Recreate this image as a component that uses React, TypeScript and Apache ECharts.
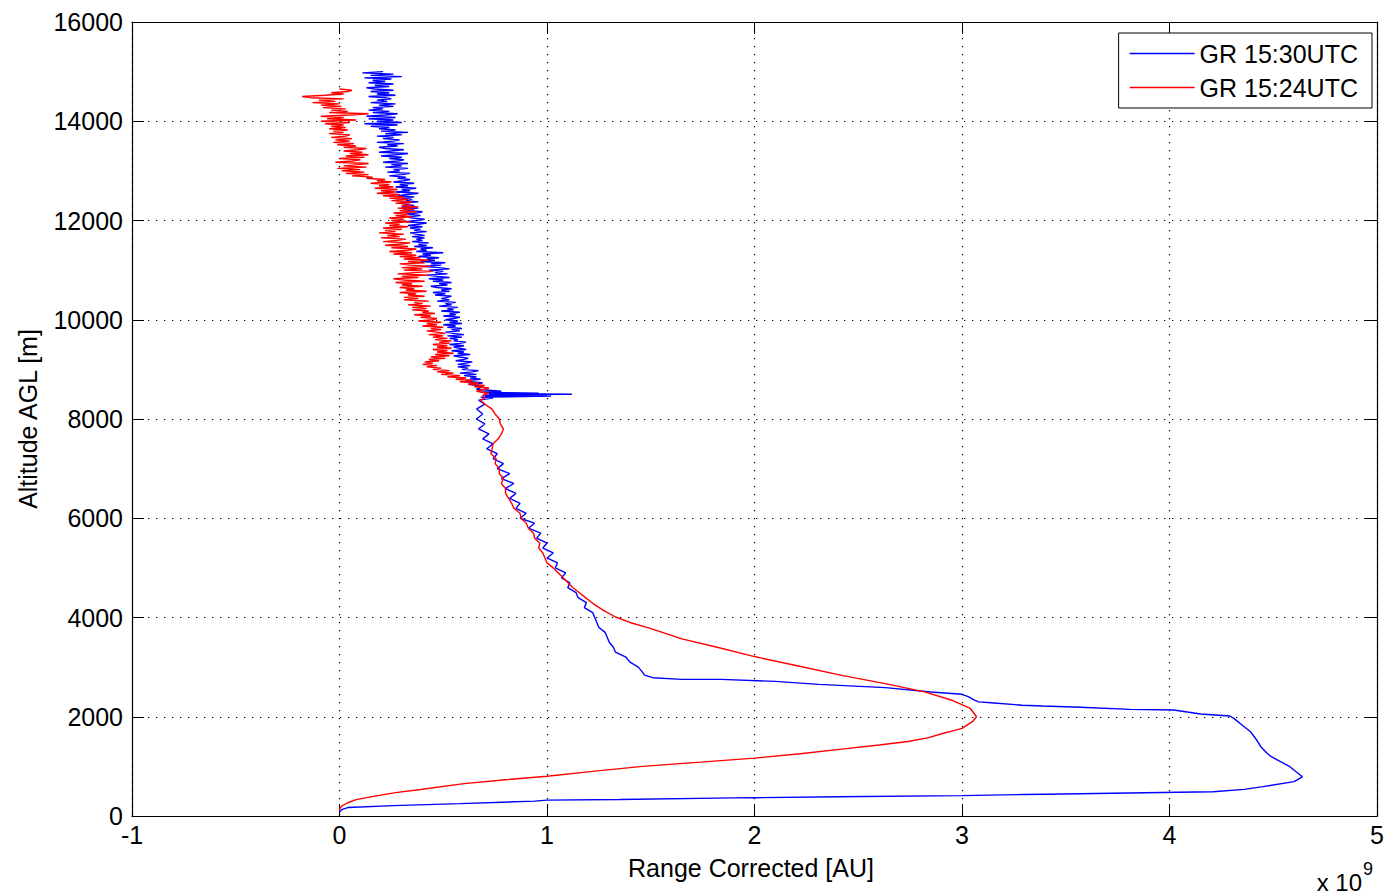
import React, { useEffect, useRef } from "react";
import * as echarts from "echarts";

// x values in units of 1e9 (Range Corrected [AU]), y = altitude AGL [m]
const X_MIN = -1, X_MAX = 5, X_STEP = 1;
const Y_MIN = 0, Y_MAX = 16000, Y_STEP = 2000;
const SERIES_NAMES = ["GR 15:30UTC", "GR 15:24UTC"];

// GR 15:30UTC, boundary layer part: [value, altitude]
const blueLow: [number, number][] = [
  [0.0, 75], [0.01, 130], [0.04, 170], [0.26, 210], [0.58, 250], [0.94, 300], [1.0, 320], [1.35, 333],
  [1.9, 365], [2.0, 368], [2.4, 387], [3.0, 410], [3.3, 434], [3.49, 443], [3.88, 470], [4.21, 490],
  [4.36, 537], [4.45, 591], [4.6, 692], [4.64, 790], [4.58, 994], [4.49, 1196], [4.47, 1263], [4.44, 1397],
  [4.42, 1531], [4.39, 1699], [4.36, 1800], [4.31, 1968], [4.29, 2015], [4.15, 2055], [4.02, 2136],
  [3.81, 2149], [3.57, 2190], [3.39, 2216], [3.29, 2233], [3.14, 2283], [3.08, 2300], [3.06, 2337],
  [3.03, 2404], [3.0, 2452], [2.85, 2500], [2.63, 2587], [2.31, 2653], [2.1, 2713], [1.84, 2753],
  [1.65, 2753], [1.51, 2787], [1.47, 2840],
];

// GR 15:30UTC, free troposphere up to the 8.5 km layer: [value, altitude]
const blueMid: [number, number][] = [
  [1.46, 2900], [1.44, 3000], [1.40, 3100], [1.38, 3200], [1.33, 3300], [1.32, 3400], [1.30, 3500],
  [1.29, 3600], [1.28, 3700], [1.25, 3800], [1.24, 3900], [1.23, 4000], [1.22, 4100], [1.18, 4200],
  [1.19, 4300], [1.15, 4400], [1.14, 4500], [1.10, 4600], [1.11, 4700], [1.07, 4800], [1.09, 4900],
  [1.04, 5000], [1.05, 5100], [1.00, 5200], [1.03, 5300], [0.98, 5400], [1.00, 5500], [0.95, 5600],
  [0.97, 5700], [0.91, 5800], [0.94, 5900], [0.87, 6000], [0.90, 6100], [0.85, 6200], [0.87, 6300],
  [0.82, 6400], [0.85, 6500], [0.80, 6600], [0.84, 6700], [0.78, 6800], [0.82, 6900], [0.76, 7000],
  [0.79, 7100], [0.74, 7200], [0.76, 7300], [0.71, 7400], [0.74, 7500], [0.69, 7600], [0.72, 7700],
  [0.67, 7800], [0.70, 7900], [0.66, 8000], [0.69, 8100], [0.66, 8200], [0.70, 8300], [0.67, 8380],
  [0.74, 8420], [0.68, 8440], [1.02, 8460], [0.70, 8470], [1.00, 8480], [0.72, 8490], [1.12, 8500],
  [0.70, 8510], [0.96, 8520], [0.68, 8540], [0.78, 8560], [0.66, 8600], [0.69, 8650],
];

// GR 15:30UTC, noisy upper part, one value per 25 m bin starting at blueHighAlt0
const blueHighAlt0 = 8675;
const blueHighVal: number[] = [
  0.67, 0.62, 0.69, 0.64, 0.61, 0.68, 0.63, 0.66,
  0.60, 0.66, 0.58, 0.64, 0.67, 0.59, 0.62, 0.57,
  0.63, 0.57, 0.61, 0.64, 0.56, 0.60, 0.62, 0.58,
  0.55, 0.63, 0.57, 0.60, 0.54, 0.61, 0.58, 0.55,
  0.60, 0.53, 0.58, 0.61, 0.55, 0.57, 0.53, 0.59,
  0.52, 0.60, 0.55, 0.51, 0.58, 0.54, 0.59, 0.52,
  0.56, 0.50, 0.59, 0.53, 0.57, 0.51, 0.55, 0.58,
  0.50, 0.56, 0.53, 0.58, 0.49, 0.55, 0.52, 0.57,
  0.48, 0.54, 0.51, 0.56, 0.47, 0.53, 0.49, 0.52,
  0.54, 0.46, 0.51, 0.45, 0.53, 0.49, 0.54, 0.47,
  0.44, 0.52, 0.48, 0.54, 0.45, 0.50, 0.43, 0.53,
  0.47, 0.42, 0.52, 0.46, 0.50, 0.43, 0.53, 0.48,
  0.40, 0.49, 0.44, 0.51, 0.39, 0.46, 0.42, 0.48,
  0.38, 0.44, 0.40, 0.50, 0.37, 0.42, 0.39, 0.45,
  0.36, 0.42, 0.38, 0.43, 0.35, 0.40, 0.37, 0.41,
  0.35, 0.41, 0.37, 0.34, 0.42, 0.36, 0.39, 0.34,
  0.40, 0.33, 0.38, 0.42, 0.32, 0.37, 0.41, 0.35,
  0.33, 0.39, 0.32, 0.37, 0.40, 0.34, 0.31, 0.38,
  0.30, 0.36, 0.33, 0.29, 0.38, 0.32, 0.35, 0.30,
  0.36, 0.28, 0.33, 0.38, 0.27, 0.34, 0.30, 0.37,
  0.27, 0.33, 0.29, 0.36, 0.26, 0.31, 0.34, 0.28,
  0.32, 0.24, 0.30, 0.34, 0.23, 0.29, 0.26, 0.33,
  0.22, 0.30, 0.25, 0.33, 0.21, 0.28, 0.31, 0.24,
  0.30, 0.20, 0.27, 0.33, 0.19, 0.25, 0.31, 0.22,
  0.19, 0.28, 0.23, 0.31, 0.18, 0.26, 0.29, 0.21,
  0.26, 0.18, 0.30, 0.22, 0.33, 0.20, 0.27, 0.19,
  0.24, 0.15, 0.28, 0.12, 0.30, 0.18, 0.26, 0.14,
  0.27, 0.13, 0.22, 0.28, 0.16, 0.24, 0.14, 0.21,
  0.16, 0.26, 0.19, 0.27, 0.15, 0.23, 0.18, 0.25,
  0.22, 0.14, 0.27, 0.18, 0.24, 0.15, 0.26, 0.17,
  0.13, 0.24, 0.17, 0.26, 0.14, 0.22, 0.16, 0.25,
  0.12, 0.30, 0.15, 0.26, 0.11, 0.21,
];

// GR 15:24UTC, boundary layer part: [value, altitude]
const redLow: [number, number][] = [
  [0.0, 100], [0.0, 133], [0.01, 200], [0.04, 267], [0.08, 330], [0.17, 400], [0.27, 470], [0.39, 533],
  [0.6, 653], [0.8, 730], [1.0, 800], [1.22, 900], [1.46, 1000], [1.74, 1085], [2.0, 1167], [2.22, 1255],
  [2.42, 1347], [2.6, 1430], [2.74, 1500], [2.84, 1580], [2.91, 1667], [2.96, 1720], [3.0, 1767],
  [3.05, 1900], [3.07, 2000], [3.04, 2167], [2.95, 2333], [2.82, 2500], [2.63, 2667], [2.42, 2833],
  [2.2, 3033], [2.0, 3213], [1.82, 3400], [1.65, 3570], [1.49, 3790], [1.40, 3900], [1.33, 4010],
  [1.27, 4150], [1.22, 4286], [1.17, 4450], [1.12, 4621], [1.08, 4790], [1.04, 4957],
];

// GR 15:24UTC, 5-8.6 km: [value, altitude]
const redMid: [number, number][] = [
  [1.03, 5000], [1.00, 5100], [0.99, 5200], [0.98, 5300], [0.96, 5400], [0.965, 5500], [0.94, 5600],
  [0.935, 5700], [0.91, 5800], [0.90, 5900], [0.875, 6000], [0.87, 6100], [0.84, 6200], [0.83, 6300],
  [0.815, 6400], [0.80, 6500], [0.80, 6600], [0.78, 6700], [0.79, 6800], [0.77, 6900], [0.77, 7000],
  [0.75, 7100], [0.755, 7200], [0.73, 7300], [0.735, 7400], [0.74, 7500], [0.765, 7600], [0.78, 7700],
  [0.79, 7800], [0.775, 7900], [0.77, 8000], [0.75, 8100], [0.735, 8200], [0.70, 8300], [0.68, 8380],
  [0.70, 8420], [0.69, 8480], [0.72, 8520], [0.66, 8560], [0.70, 8600],
];

// GR 15:24UTC, noisy upper part, one value per 25 m bin starting at redHighAlt0
const redHighAlt0 = 8625;
const redHighVal: number[] = [
  0.72, 0.65, 0.70, 0.62, 0.67, 0.58, 0.64, 0.56,
  0.61, 0.52, 0.58, 0.49, 0.55, 0.47, 0.53, 0.45,
  0.49, 0.42, 0.47, 0.40, 0.45, 0.41, 0.48, 0.43,
  0.51, 0.44, 0.53, 0.46, 0.55, 0.47, 0.52, 0.45,
  0.54, 0.47, 0.52, 0.45, 0.53, 0.48, 0.54, 0.46,
  0.52, 0.45, 0.50, 0.43, 0.51, 0.47, 0.42, 0.49,
  0.44, 0.50, 0.40, 0.47, 0.42, 0.49, 0.38, 0.45,
  0.47, 0.39, 0.44, 0.36, 0.46, 0.40, 0.43, 0.35,
  0.42, 0.35, 0.44, 0.33, 0.40, 0.36, 0.43, 0.31,
  0.38, 0.31, 0.41, 0.33, 0.37, 0.29, 0.42, 0.32,
  0.36, 0.29, 0.40, 0.30, 0.35, 0.27, 0.41, 0.31,
  0.26, 0.38, 0.30, 0.43, 0.28, 0.36, 0.45, 0.31,
  0.40, 0.30, 0.44, 0.34, 0.29, 0.41, 0.33, 0.43,
  0.31, 0.39, 0.29, 0.37, 0.26, 0.35, 0.24, 0.33,
  0.37, 0.25, 0.33, 0.22, 0.30, 0.34, 0.21, 0.28,
  0.32, 0.20, 0.29, 0.23, 0.31, 0.19, 0.27, 0.22,
  0.30, 0.21, 0.33, 0.24, 0.29, 0.22, 0.34, 0.25,
  0.31, 0.24, 0.35, 0.27, 0.33, 0.26, 0.37, 0.29,
  0.36, 0.28, 0.38, 0.30, 0.34, 0.27, 0.35, 0.25,
  0.33, 0.24, 0.31, 0.21, 0.29, 0.18, 0.27, 0.20,
  0.28, 0.17, 0.26, 0.19, 0.24, 0.15, 0.25, 0.18,
  0.22, 0.13, 0.16, 0.06, 0.14, 0.03, 0.12, 0.01,
  0.10, -0.01, 0.13, 0.02, 0.09, 0.14, -0.02, 0.06,
  0.10, 0.00, 0.12, 0.03, 0.14, 0.05, 0.11, 0.02,
  0.09, 0.13, 0.02, 0.08, -0.01, 0.07, -0.03, 0.05,
  -0.02, 0.06, -0.04, 0.03, 0.05, -0.05, 0.02, -0.03,
  0.04, -0.05, 0.03, -0.04, 0.02, -0.07, 0.05, -0.09,
  0.08, -0.06, 0.02, -0.09, 0.05, 0.14, -0.05, 0.04,
  -0.04, 0.03, -0.08, 0.01, -0.09, 0.00, -0.13, -0.02,
  -0.10, 0.02, -0.14, -0.18, -0.07, 0.02, -0.04, 0.04,
  0.06, 0.00,
];

const BIN = 25; // altitude bin of the noisy upper parts [m]

const FONT = "'Liberation Sans', Arial, Helvetica, sans-serif";
const BLUE = "#0000ff";
const RED = "#ff0000";

export default function App() {
  const ref = useRef<HTMLDivElement>(null);
  useEffect(() => {
    if (!ref.current) return;
    const chart = echarts.init(ref.current, undefined, { renderer: "svg" });
    const blueHigh = blueHighVal.map((v, i) => [v, blueHighAlt0 + i * BIN]);
    const redHigh = redHighVal.map((v, i) => [v, redHighAlt0 + i * BIN]);
    const tickStyle = { color: "#000", width: 1 };
    const axisLineStyle = { color: "#000", width: 1.2 };
    const gridDash = { color: "#000", width: 1.2, type: [1.3, 6.7] as any };
    const lineBase = { type: "line", xAxisIndex: 0, yAxisIndex: 0, symbol: "none", showSymbol: false };
    chart.setOption({
      animation: false,
      backgroundColor: "#fff",
      grid: { left: 132, right: 6, top: 22, bottom: 78, containLabel: false },
      legend: {
        orient: "vertical",
        right: 15,
        top: 33,
        icon: "rect",
        itemWidth: 65,
        itemHeight: 1.5,
        itemGap: 9,
        padding: [8, 14, 8, 11],
        borderColor: "#000",
        borderWidth: 1,
        borderRadius: 0,
        backgroundColor: "#fff",
        textStyle: { fontSize: 25, color: "#000", fontFamily: FONT, lineHeight: 25 },
        data: SERIES_NAMES,
      },
      xAxis: [
        {
          type: "value", min: X_MIN, max: X_MAX, interval: X_STEP, position: "bottom",
          axisLine: { show: true, onZero: false, lineStyle: axisLineStyle },
          axisTick: { show: true, inside: true, length: 12, lineStyle: tickStyle },
          axisLabel: { fontSize: 25, color: "#000", margin: 6, fontFamily: FONT, formatter: (v: number) => String(v) },
          splitLine: { show: true, lineStyle: gridDash },
        },
        {
          type: "value", min: X_MIN, max: X_MAX, interval: X_STEP, position: "top",
          axisLine: { show: true, onZero: false, lineStyle: axisLineStyle },
          axisTick: { show: true, inside: true, length: 12, lineStyle: tickStyle },
          axisLabel: { show: false },
          splitLine: { show: false },
        },
      ],
      yAxis: [
        {
          type: "value", min: Y_MIN, max: Y_MAX, interval: Y_STEP, position: "left",
          axisLine: { show: true, onZero: false, lineStyle: axisLineStyle },
          axisTick: { show: true, inside: true, length: 12, lineStyle: tickStyle },
          axisLabel: { fontSize: 25, color: "#000", margin: 9, fontFamily: FONT, formatter: (v: number) => String(v) },
          splitLine: { show: true, lineStyle: gridDash },
        },
        {
          type: "value", min: Y_MIN, max: Y_MAX, interval: Y_STEP, position: "right",
          axisLine: { show: true, onZero: false, lineStyle: axisLineStyle },
          axisTick: { show: true, inside: true, length: 12, lineStyle: tickStyle },
          axisLabel: { show: false },
          splitLine: { show: false },
        },
      ],
      series: [
        {
          ...lineBase, name: SERIES_NAMES[0], data: [...blueLow, ...blueMid, ...blueHigh],
          lineStyle: { color: BLUE, width: 1.4 }, itemStyle: { color: BLUE },
        },
        {
          ...lineBase, name: SERIES_NAMES[1], data: [...redLow, ...redMid, ...redHigh],
          lineStyle: { color: RED, width: 1.4 }, itemStyle: { color: RED },
        },
      ],
      graphic: [
        {
          type: "text", x: 28, y: 419, rotation: Math.PI / 2,
          style: { text: "Altitude AGL [m]", fontSize: 25, fontFamily: FONT, fill: "#000",
            align: "center", verticalAlign: "middle", textAlign: "center", textVerticalAlign: "middle" } as any,
        },
        {
          type: "text", x: 751, y: 868,
          style: { text: "Range Corrected [AU]", fontSize: 25, fontFamily: FONT, fill: "#000",
            align: "center", verticalAlign: "middle", textAlign: "center", textVerticalAlign: "middle" } as any,
        },
        {
          type: "text", x: 1362, y: 882,
          style: { text: "x 10", fontSize: 24, fontFamily: FONT, fill: "#000",
            align: "right", verticalAlign: "middle", textAlign: "right", textVerticalAlign: "middle" } as any,
        },
        {
          type: "text", x: 1363, y: 869,
          style: { text: "9", fontSize: 18, fontFamily: FONT, fill: "#000",
            align: "left", verticalAlign: "middle", textAlign: "left", textVerticalAlign: "middle" } as any,
        },
      ],
    });
    return () => chart.dispose();
  }, []);
  return <div ref={ref} style={{ position: "fixed", left: 0, top: 0, width: 1387, height: 894, background: "#fff" }} />;
}
